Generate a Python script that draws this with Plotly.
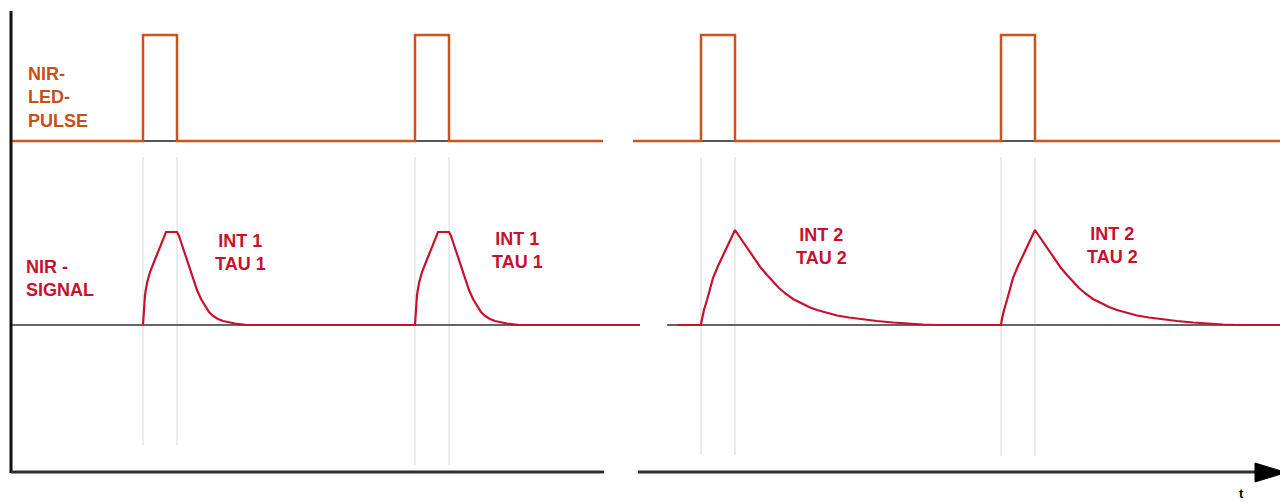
import plotly.graph_objects as go

# ---------------- data (time axis in drawing units) ----------------
pulse_starts_1 = [143, 415]          # LED pulses, measurement 1
pulse_starts_2 = [701, 1001]         # LED pulses, measurement 2
pulse_width = 34
pulse_height = 106

# response shape for INT 1 / TAU 1 (offset from pulse start, signal height)
tau1_offset = [0, 0.5, 1, 2, 4, 7, 11, 16, 20, 23, 34, 36, 38, 41, 44, 47, 50, 54, 58, 62, 66, 70, 75, 80, 86, 92, 98, 104]
tau1_height = [0, 12, 20, 30, 42, 53, 63, 75, 85, 93, 93, 89, 83, 74, 65, 55, 46, 35, 26, 19, 13, 9, 6, 4, 2.5, 1.5, 0.7, 0]

# response shape for INT 2 / TAU 2
tau2_offset = [0, 1, 3, 6, 9, 12, 17, 22, 28, 34, 38, 42, 46, 50, 55, 60, 66, 72, 78, 85, 92, 100, 108, 116, 126, 136, 148, 162, 176, 192, 209, 222, 236]
tau2_height = [0, 6, 15, 25, 37, 47, 59, 70, 83, 95, 89, 83, 77, 71, 64, 57, 50, 43, 37, 31, 26, 22, 18, 15, 12, 9.5, 7.5, 5.5, 4, 2.5, 1.2, 0.5, 0]

signal_labels = ["INT 1<br>TAU 1", "INT 1<br>TAU 1", "INT 2<br>TAU 2", "INT 2<br>TAU 2"]
label_x = [240, 517, 821, 1112]

# ---------------- layout constants ----------------
H = 504
def Y(pix):  # convert screen row to y value
    return H - pix

PULSE_BASE = Y(141)
SIG_BASE = Y(325)
ORANGE = "#CC5220"
ORANGE_TXT = "#C4501A"
RED = "#C8102E"
FONT = "Liberation Sans, Arial, sans-serif"

panel1 = dict(pulse_x0=11, pulse_x1=603, sig_red0=143, sig_red1=640, sig_base0=11, sig_base1=640)
panel2 = dict(pulse_x0=633, pulse_x1=1280, sig_red0=677, sig_red1=1280, sig_base0=667, sig_base1=1282)

fig = go.Figure()
shapes = []

guide_ends = {143: 445, 415: 465, 701: 455, 1001: 456}

# vertical guides
for s in pulse_starts_1 + pulse_starts_2:
    for xx in (s, s + pulse_width):
        shapes.append(dict(type="line", x0=xx, x1=xx, y0=Y(157), y1=Y(guide_ends[s]),
                           line=dict(color="#e4e4e4", width=1.5), layer="below"))

def pulse_trace(starts, x0, x1):
    xs, ys = [x0], [PULSE_BASE]
    for s in starts:
        xs += [s, s, s + pulse_width, s + pulse_width]
        ys += [PULSE_BASE, PULSE_BASE + pulse_height, PULSE_BASE + pulse_height, PULSE_BASE]
    xs.append(x1); ys.append(PULSE_BASE)
    return xs, ys

def signal_trace(starts, offs, hts, x0, x1):
    xs, ys = [x0], [SIG_BASE]
    for s in starts:
        xs += [s + o for o in offs]
        ys += [SIG_BASE + h for h in hts]
    xs.append(x1); ys.append(SIG_BASE)
    return xs, ys

for p, starts, offs, hts in [(panel1, pulse_starts_1, tau1_offset, tau1_height),
                             (panel2, pulse_starts_2, tau2_offset, tau2_height)]:
    # gray baselines
    fig.add_trace(go.Scatter(x=[p["pulse_x0"], p["pulse_x1"]], y=[PULSE_BASE, PULSE_BASE],
                             mode="lines", line=dict(color="#555555", width=2), hoverinfo="skip"))
    fig.add_trace(go.Scatter(x=[p["sig_base0"], p["sig_base1"]], y=[SIG_BASE, SIG_BASE],
                             mode="lines", line=dict(color="#666666", width=2), hoverinfo="skip"))
    # LED pulse
    xs, ys = pulse_trace(starts, p["pulse_x0"], p["pulse_x1"])
    fig.add_trace(go.Scatter(x=xs, y=ys, mode="lines", line=dict(color=ORANGE, width=2.5),
                             hoverinfo="skip"))
    # NIR signal
    xs, ys = signal_trace(starts, offs, hts, p["sig_red0"], p["sig_red1"])
    fig.add_trace(go.Scatter(x=xs, y=ys, mode="lines",
                             line=dict(color=RED, width=2.2),
                             hoverinfo="skip"))

# axes drawn as shapes
shapes += [
    dict(type="line", x0=11, x1=11, y0=Y(11), y1=Y(473), line=dict(color="#111111", width=3)),
    dict(type="line", x0=11, x1=604, y0=Y(472), y1=Y(472), line=dict(color="#2e2e2e", width=3)),
    dict(type="line", x0=638, x1=1260, y0=Y(472), y1=Y(472), line=dict(color="#2e2e2e", width=3)),
    dict(type="path", path=f"M 1255 {Y(463)} L 1286 {Y(472.5)} L 1255 {Y(482)} Z",
         fillcolor="#000000", line=dict(color="#000000", width=1)),
]

annotations = [
    dict(x=26, y=Y(97), text="<b>NIR-<br>LED-<br>PULSE</b>", xanchor="left", yanchor="middle",
         align="left", showarrow=False, font=dict(family=FONT, size=18, color=ORANGE_TXT)),
    dict(x=24, y=Y(278), text="<b>NIR -<br>SIGNAL</b>", xanchor="left", yanchor="middle",
         align="left", showarrow=False, font=dict(family=FONT, size=18, color=RED)),
    dict(x=1241, y=Y(503), text="<b>t</b>", xanchor="center", yanchor="bottom",
         showarrow=False, font=dict(family=FONT, size=13, color="#000000")),
]
label_y = [Y(252), Y(250), Y(246), Y(245)]
for t, lx, ly in zip(signal_labels, label_x, label_y):
    annotations.append(dict(x=lx, y=ly, text=f"<b>{t}</b>", xanchor="center", yanchor="middle",
                            align="center", showarrow=False,
                            font=dict(family=FONT, size=18, color=RED)))

# the page body has an 8 px margin, so the figure is 8 px smaller and the
# axis ranges are offset so that drawing units match screen pixels
fig.update_layout(
    width=1280, height=496,
    margin=dict(l=0, r=0, t=0, b=0),
    paper_bgcolor="white", plot_bgcolor="white",
    showlegend=False,
    xaxis=dict(range=[8, 1288], visible=False, fixedrange=True),
    yaxis=dict(range=[0, 496], visible=False, fixedrange=True),
    shapes=shapes,
    annotations=annotations,
)

fig.write_html("out.html")
